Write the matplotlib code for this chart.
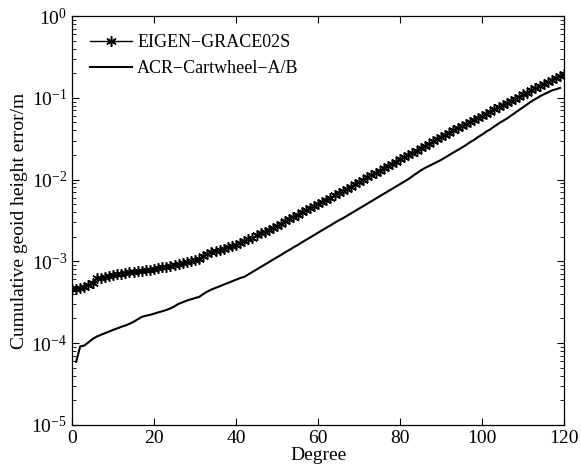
import numpy as np
import matplotlib
matplotlib.use("Agg")
import matplotlib.pyplot as plt
from matplotlib.ticker import LogLocator, NullFormatter

plt.rcParams['font.family'] = ['Liberation Serif', 'DejaVu Serif']
plt.rcParams['mathtext.fontset'] = 'stix'

# --- data ---
eigen_degree = list(range(0, 121))
eigen_error = [
    4.57e-4, 4.57e-4, 4.68e-4, 4.90e-4, 5.13e-4, 5.50e-4, 6.17e-4, 6.31e-4, 6.46e-4, 6.61e-4,
    6.76e-4, 6.92e-4, 7.08e-4, 7.24e-4, 7.33e-4, 7.41e-4, 7.59e-4, 7.67e-4, 7.76e-4, 7.94e-4,
    8.13e-4, 8.32e-4, 8.51e-4, 8.61e-4, 8.81e-4, 9.02e-4, 9.23e-4, 9.55e-4, 9.77e-4, 1.00e-3,
    1.035e-3, 1.08e-3, 1.15e-3, 1.22e-3, 1.29e-3, 1.33e-3, 1.38e-3, 1.43e-3, 1.48e-3, 1.53e-3,
    1.58e-3, 1.66e-3, 1.76e-3, 1.86e-3, 1.95e-3, 2.07e-3, 2.19e-3, 2.29e-3, 2.43e-3, 2.57e-3,
    2.69e-3, 2.88e-3, 3.09e-3, 3.27e-3, 3.51e-3, 3.72e-3, 3.98e-3, 4.22e-3, 4.47e-3, 4.73e-3,
    5.01e-3, 5.37e-3, 5.69e-3, 6.03e-3, 6.46e-3, 6.84e-3, 7.24e-3, 7.76e-3, 8.22e-3, 8.71e-3,
    9.33e-3, 1.00e-2, 1.06e-2, 1.135e-2, 1.20e-2, 1.29e-2, 1.365e-2, 1.46e-2, 1.55e-2, 1.66e-2,
    1.78e-2, 1.88e-2, 2.00e-2, 2.14e-2, 2.26e-2, 2.43e-2, 2.57e-2, 2.75e-2, 2.92e-2, 3.13e-2,
    3.31e-2, 3.51e-2, 3.72e-2, 3.98e-2, 4.22e-2, 4.47e-2, 4.73e-2, 5.01e-2, 5.37e-2, 5.69e-2,
    6.03e-2, 6.38e-2, 6.76e-2, 7.24e-2, 7.67e-2, 8.13e-2, 8.61e-2, 9.12e-2, 9.77e-2, 0.1035,
    0.110, 0.116, 0.123, 0.130, 0.138, 0.146, 0.155, 0.164, 0.174, 0.184,
    0.195,
]

acr_degree = list(range(1, 120))
acr_error = [
    5.9e-5, 9.12e-5, 9.33e-5, 1.02e-4, 1.12e-4, 1.20e-4, 1.26e-4, 1.32e-4, 1.38e-4, 1.45e-4,
    1.51e-4, 1.58e-4, 1.64e-4, 1.72e-4, 1.82e-4, 1.95e-4, 2.09e-4, 2.16e-4, 2.21e-4, 2.29e-4,
    2.37e-4, 2.45e-4, 2.54e-4, 2.66e-4, 2.82e-4, 3.02e-4, 3.16e-4, 3.31e-4, 3.43e-4, 3.55e-4,
    3.67e-4, 3.98e-4, 4.27e-4, 4.52e-4, 4.73e-4, 4.95e-4, 5.19e-4, 5.43e-4, 5.69e-4, 5.96e-4,
    6.24e-4, 6.46e-4, 6.92e-4, 7.41e-4, 7.94e-4, 8.51e-4, 9.12e-4, 9.77e-4, 1.05e-3, 1.12e-3,
    1.20e-3, 1.29e-3, 1.38e-3, 1.48e-3, 1.58e-3, 1.70e-3, 1.82e-3, 1.95e-3, 2.09e-3, 2.24e-3,
    2.40e-3, 2.57e-3, 2.75e-3, 2.95e-3, 3.16e-3, 3.35e-3, 3.59e-3, 3.85e-3, 4.12e-3, 4.42e-3,
    4.73e-3, 5.07e-3, 5.43e-3, 5.82e-3, 6.24e-3, 6.68e-3, 7.16e-3, 7.67e-3, 8.22e-3, 8.81e-3,
    9.44e-3, 1.01e-2, 1.10e-2, 1.19e-2, 1.29e-2, 1.38e-2, 1.46e-2, 1.55e-2, 1.64e-2, 1.74e-2,
    1.86e-2, 2.00e-2, 2.14e-2, 2.29e-2, 2.45e-2, 2.63e-2, 2.85e-2, 3.05e-2, 3.31e-2, 3.55e-2,
    3.85e-2, 4.12e-2, 4.47e-2, 4.84e-2, 5.19e-2, 5.56e-2, 6.03e-2, 6.53e-2, 7.08e-2, 7.67e-2,
    8.32e-2, 9.02e-2, 9.66e-2, 0.1035, 0.110, 0.116, 0.123, 0.127, 0.132,
]

x_ticks = [0, 20, 40, 60, 80, 100, 120]

fig = plt.figure(figsize=(5.81, 4.71), dpi=100)
ax = fig.add_axes([0.124, 0.098, 0.847, 0.868])

# MATLAB-style asterisk marker (6 arms)
ax.semilogy(eigen_degree, eigen_error, color='black', linewidth=1.0,
            marker=(6, 2, 0), markersize=7.5, markeredgewidth=1.1,
            label='EIGEN\u2212GRACE02S')
ax.semilogy(acr_degree, acr_error, color='black', linewidth=1.5,
            label='ACR\u2212Cartwheel\u2212A/B')

ax.set_xlim(0, 120)
ax.set_ylim(1e-5, 1e0)
ax.set_xticks(x_ticks)
ax.yaxis.set_major_locator(LogLocator(base=10, numticks=10))
ax.yaxis.set_minor_locator(LogLocator(base=10, subs=np.arange(2, 10), numticks=20))
ax.yaxis.set_minor_formatter(NullFormatter())

ax.tick_params(which='both', direction='in', top=True, right=True, labelsize=14)
ax.tick_params(which='major', length=5, width=0.8)
ax.tick_params(which='minor', length=3, width=0.6)
for s in ax.spines.values():
    s.set_linewidth(0.9)

ax.set_xlabel('Degree', fontsize=14, labelpad=0)
ax.set_ylabel('Cumulative geoid height error/m', fontsize=14, labelpad=2)

ax.legend(loc='upper left', frameon=False, fontsize=13, handlelength=2.3,
          handletextpad=0.3, borderaxespad=0.6, labelspacing=0.5,
          borderpad=0.4)

fig.savefig('out.png', dpi=100)
